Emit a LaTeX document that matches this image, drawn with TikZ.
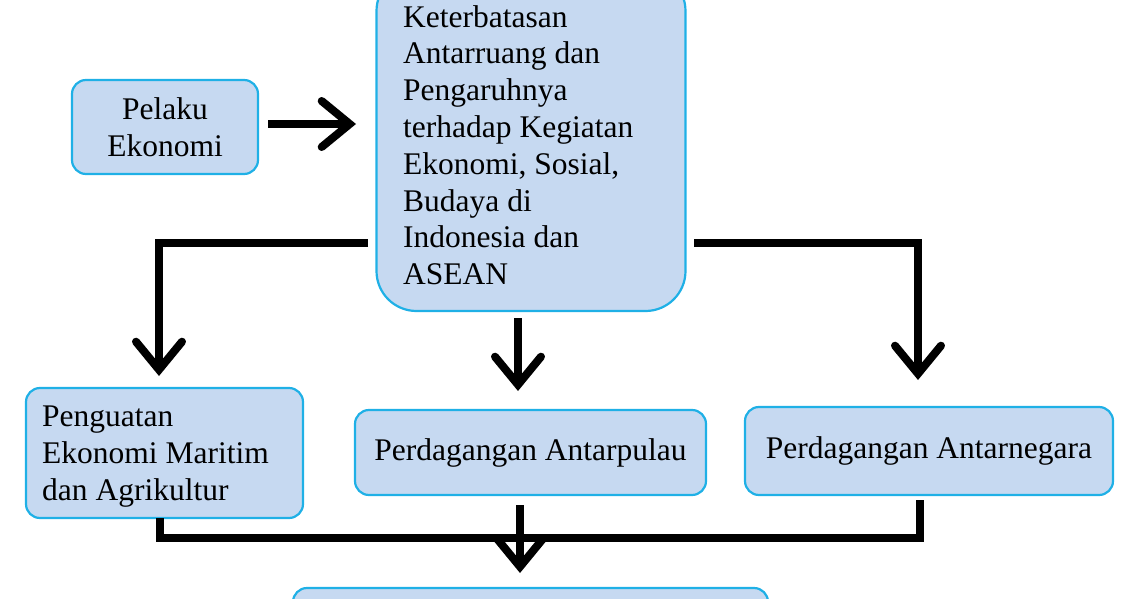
\documentclass[tikz,border=0pt]{standalone}
\usepackage{fontspec}
\setmainfont{Liberation Serif}
\usetikzlibrary{arrows.meta}
\begin{document}
\begin{tikzpicture}[x=1pt,y=-1pt,
  box/.style={draw=boxline, line width=2.2pt, fill=boxfill, rounded corners=14pt, font=\fontsize{31.5}{36.8}\selectfont, inner sep=0pt},
  conn/.style={line width=8pt, black},
  arr/.style={conn, -{Straight Barb[length=28pt,width=46pt,line width=8pt,line cap=round]}}]
\definecolor{boxfill}{HTML}{C6D9F1}
\definecolor{boxline}{HTML}{1FB0E6}
\useasboundingbox (0,0) rectangle (1140,599);
\node[box, minimum width=186pt, minimum height=94pt, align=center] (pel) at (165,127) {Pelaku\\Ekonomi};
\node[box, minimum width=309pt, minimum height=340pt, rounded corners=40pt] (cen) at (531,141) {};
\node[font=\fontsize{31.5}{36.8}\selectfont, align=left, anchor=north west, inner sep=0pt] (cent) at (403,5)
 {Keterbatasan\\Antarruang dan\\Pengaruhnya\\terhadap Kegiatan\\Ekonomi, Sosial,\\Budaya di\\Indonesia dan\\ASEAN};
\node[box, minimum width=277pt, minimum height=130pt] (lef) at (164.5,453) {};
\node[font=\fontsize{31.5}{36.8}\selectfont, align=left, anchor=north west, inner sep=0pt] (left) at (42,406)
 {Penguatan\\Ekonomi Maritim\\dan Agrikultur};
\node[box, minimum width=351pt, minimum height=85pt] (mid) at (530.5,452.5) {Perdagangan Antarpulau};
\node[box, minimum width=368pt, minimum height=88pt] (rig) at (929,451) {Perdagangan Antarnegara};
\node[box, minimum width=475pt, minimum height=40pt] (bot) at (530.5,608) {};
\coordinate (p1) at (268,124); \coordinate (p2) at (356,124);
\coordinate (a1) at (368,243); \coordinate (a2) at (160,243);
\coordinate (b1) at (694,243); \coordinate (b2) at (920,243);
\coordinate (j) at (520,540);
\draw[arr] (p1) -- (p2);
\draw[conn] (a1) -- (a2);
\draw[arr] (159,239) -- (159,376);
\draw[conn] (b1) -- (b2);
\draw[arr] (918,239) -- (918,380);
\draw[arr] (518,318) -- (518,391);
\draw[conn] (160,518) -- (160,538) -- (920,538) -- (920,500);
\draw[conn] (520,505) -- (j);
\draw[arr] (j) -- (520,573);
\end{tikzpicture}
\end{document}
